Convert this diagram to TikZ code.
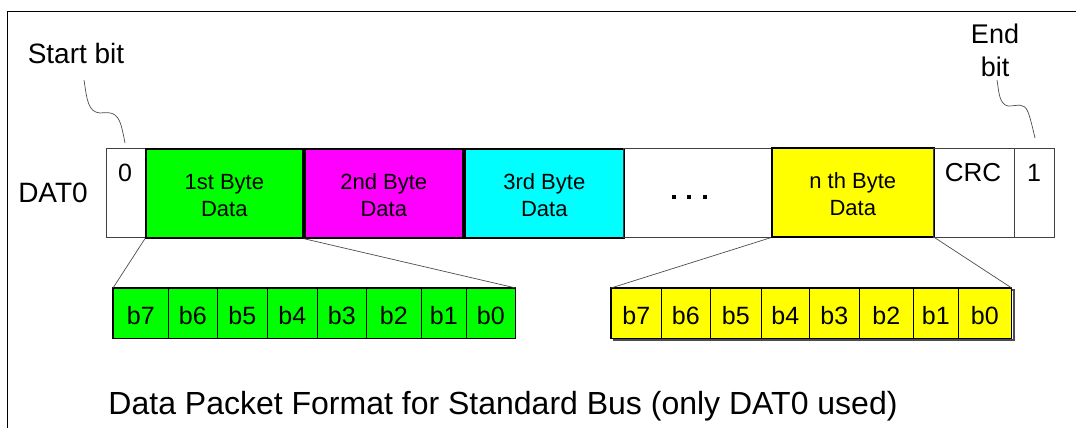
\documentclass[tikz,border=0pt]{standalone}
\usepackage{fontspec}
\setmainfont{Liberation Sans}
\begin{document}
\begin{tikzpicture}[x=1pt,y=-1pt,
  cell/.style={draw=black!75,line width=0.8pt,inner sep=0pt,anchor=north west},
  bytebox/.style={draw=black,line width=1.6pt,inner sep=0pt,anchor=north west},
  bitcell/.style={draw=black,line width=0.7pt,inner sep=0pt,anchor=north west},
  lbl/.style={font=\fontsize{22}{27}\selectfont,align=center},
  bitlbl/.style={font=\fontsize{25}{25}\selectfont},
  zoomline/.style={draw=black!70,line width=0.7pt},
  wavy/.style={draw=black!70,line width=0.7pt}]
\definecolor{bgreen}{RGB}{0,255,0}
\definecolor{bmagenta}{RGB}{255,0,255}
\definecolor{bcyan}{RGB}{0,255,255}
\definecolor{byellow}{RGB}{255,255,0}
\useasboundingbox (0,0) rectangle (1076,428);
% frame
\draw[line width=1pt] (7,428) -- (7,12) -- (1076,12);

% packet bar
\node[cell,minimum width=39pt,minimum height=89pt] (s0) at (106,148) {};
\node[font=\fontsize{25}{25}\selectfont] at (125,173) {0};
\node[bytebox,fill=bgreen,minimum width=157pt,minimum height=89pt] (b1) at (145,148) {};
\node[lbl] at ([yshift=-2pt]b1.center) {1st Byte\\Data};
\node[bytebox,fill=bmagenta,minimum width=158pt,minimum height=89pt] (b2) at (304,148) {};
\node[lbl] at ([yshift=-2pt]b2.center) {2nd Byte\\Data};
\node[bytebox,fill=bcyan,minimum width=159pt,minimum height=89pt] (b3) at (464,148) {};
\node[lbl] at ([yshift=-2pt]b3.center) {3rd Byte\\Data};
\node[cell,minimum width=148pt,minimum height=89pt] (dots) at (623,148) {};
\foreach \dx in {674,689,705} \fill (\dx-2,195) rectangle (\dx+2,199);
\node[bytebox,fill=byellow,minimum width=162pt,minimum height=89pt] (bn) at (771,147) {};
\node[lbl] at ([yshift=-2pt]bn.center) {n th Byte\\Data};
\node[cell,minimum width=81pt,minimum height=89pt] (crc) at (933,148) {};
\node[font=\fontsize{26}{26}\selectfont] at (973,173) {CRC};
\node[cell,minimum width=40pt,minimum height=89pt] (e1) at (1014,148) {};
\node[font=\fontsize{25}{25}\selectfont] at (1034,173) {1};

% labels
\node[font=\fontsize{28}{28}\selectfont] (dat) at (53,193) {DAT0};
\node[font=\fontsize{28}{28}\selectfont] (start) at (76,53) {Start bit};
\node[font=\fontsize{27}{33}\selectfont,align=center] (endb) at (995,50) {End\\bit};
\node[font=\fontsize{32}{32}\selectfont] (cap) at (503,406) {Data Packet Format for Standard Bus (only DAT0 used)};

% wavy leaders
\draw[wavy] (84,80) .. controls (87,100) and (88,112) .. (100,113)
  .. controls (110,112) and (117,112) .. (121,125) .. controls (123,132) and (124,138) .. (125,143);
\draw[wavy] (997,80) .. controls (999,92) and (999,104) .. (1008,106)
  .. controls (1018,106) and (1024,102) .. (1028,112) .. controls (1031,120) and (1033,130) .. (1035,138);

% bit breakdowns
\foreach \name/\fillc/\xs in {g/bgreen/{113,168,217,267,317,366,421,466,515},
                              y/byellow/{611,661,710,761,809,859,913,958,1011}} {
  \foreach \xa/\xb/\t [count=\i] in {0/1/7,1/2/6,2/3/5,3/4/4,4/5/3,5/6/2,6/7/1,7/8/0} {
    \pgfmathsetmacro{\xl}{{\xs}[\xa]}
    \pgfmathsetmacro{\xr}{{\xs}[\xb]}
    \node[bitcell,fill=\fillc,minimum width=\xr-\xl,minimum height=50pt] (\name\i) at (\xl,288) {};
    \node[bitlbl] at ([yshift=-2pt]\name\i.center) {b\t};
  }
}
\draw[line width=1.4pt] (g1.north west) rectangle (g8.south east);
\draw[line width=1.4pt] (y1.north west) rectangle (y8.south east);
\draw[black!70,line width=1.2pt] (1012,290) -- (1014,290) -- (1014,340) -- (613,340);

% zoom lines
\draw[zoomline] (b1.south west) -- (g1.north west);
\draw[zoomline] (b1.south east) -- (g8.north east);
\draw[zoomline] (bn.south west) -- (y1.north west);
\draw[zoomline] (bn.south east) -- (y8.north east);
\end{tikzpicture}
\end{document}
